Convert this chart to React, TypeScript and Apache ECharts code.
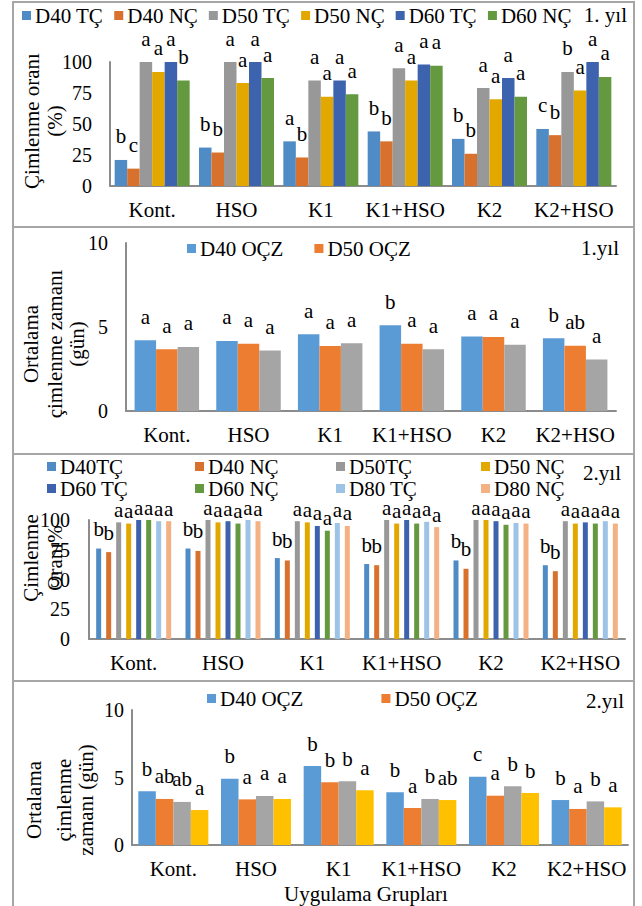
import React, { useEffect, useRef } from 'react';
import * as echarts from 'echarts';

const FONT = "'Liberation Serif', 'Times New Roman', serif";

const categories = ['Kont.', 'HSO', 'K1', 'K1+HSO', 'K2', 'K2+HSO'];

// Panel 1: 1. yıl çimlenme oranı (%)
const p1Names = ['D40 TÇ', 'D40 NÇ', 'D50 TÇ', 'D50 NÇ', 'D60 TÇ', 'D60 NÇ'];
const p1D40TC = [21, 31, 36, 44, 38, 46];
const p1D40NC = [14, 27, 23, 36, 26, 41];
const p1D50TC = [100, 100, 85, 95, 79, 92];
const p1D50NC = [92, 83, 72, 85, 70, 77];
const p1D60TC = [100, 100, 85, 98, 87, 100];
const p1D60NC = [85, 87, 74, 97, 72, 88];
const p1L40TC = ['b', 'b', 'a', 'b', 'b', 'c'];
const p1L40NC = ['c', 'b', 'b', 'b', 'b', 'b'];
const p1L50TC = ['a', 'a', 'a', 'a', 'a', 'b'];
const p1L50NC = ['a', 'a', 'a', 'a', 'a', 'a'];
const p1L60TC = ['a', 'a', 'a', 'a', 'a', 'a'];
const p1L60NC = ['b', 'a', 'a', 'a', 'a', 'a'];

// Panel 2: 1. yıl ortalama çimlenme zamanı (gün)
const p2Names = ['D40 OÇZ', 'D50 OÇZ', '1.yıl seri 3'];
const p2D40 = [4.21, 4.17, 4.57, 5.1, 4.43, 4.33];
const p2D50 = [3.68, 4.01, 3.87, 4.01, 4.41, 3.89];
const p2S3 = [3.81, 3.6, 4.03, 3.68, 3.95, 3.06];
const p2L40 = ['a', 'a', 'a', 'b', 'a', 'b'];
const p2L50 = ['a', 'a', 'a', 'a', 'a', 'ab'];
const p2LS3 = ['a', 'a', 'a', 'a', 'a', 'a'];

// Panel 3: 2. yıl çimlenme oranı (%)
const p3Names = ['D40TÇ', 'D40 NÇ', 'D50TÇ', 'D50 NÇ', 'D60 TÇ', 'D60 NÇ', 'D80 TÇ', 'D80 NÇ'];
const p3D40TC = [76, 76, 68, 63, 66, 62];
const p3D40NC = [73, 74, 66, 62, 59, 57];
const p3D50TC = [98, 100, 99, 100, 100, 99];
const p3D50NC = [97, 98, 98, 97, 100, 97];
const p3D60TC = [100, 99, 95, 100, 99, 98];
const p3D60NC = [100, 97, 91, 97, 96, 97];
const p3D80TC = [99, 100, 97.5, 98.5, 97.5, 99];
const p3D80NC = [99, 99, 95, 94, 97, 97];
const p3LD40 = ['b', 'b', 'b', 'b', 'b', 'b'];
const p3LRest = ['a', 'a', 'a', 'a', 'a', 'a'];

// Panel 4: 2. yıl ortalama çimlenme zamanı (gün)
const p4Names = ['D40 OÇZ', 'D50 OÇZ', '2.yıl seri 3', '2.yıl seri 4'];
const p4D40 = [3.98, 4.91, 5.85, 3.9, 5.06, 3.33];
const p4D50 = [3.41, 3.38, 4.64, 2.74, 3.65, 2.67];
const p4S3 = [3.19, 3.63, 4.72, 3.41, 4.35, 3.23];
const p4S4 = [2.59, 3.41, 4.05, 3.33, 3.85, 2.79];
const p4L40 = ['b', 'b', 'b', 'b', 'c', 'b'];
const p4L50 = ['ab', 'a', 'b', 'a', 'a', 'a'];
const p4LS3 = ['ab', 'a', 'b', 'b', 'b', 'b'];
const p4LS4 = ['a', 'a', 'a', 'ab', 'b', 'a'];

const C = {
  blue: '#4F8BC4',
  orange: '#D8712D',
  gray: '#989898',
  gold: '#E3A800',
  navy: '#3E63AE',
  green: '#64993F',
  lblue: '#9DC3E6',
  salmon: '#F4B183',
};
const C2 = { blue: '#5B9BD5', orange: '#ED7D31', gray: '#A5A5A5', yellow: '#FFC000' };

export default function App() {
  const ref = useRef<HTMLDivElement>(null);

  useEffect(() => {
    document.body.style.margin = '0';
    const chart = echarts.init(ref.current!, undefined, { renderer: 'svg' });

    const axisLine = { show: true, lineStyle: { color: '#8c8c8c', width: 2 } };
    const catLabel = { interval: 0, fontSize: 21, fontFamily: FONT, color: '#000', margin: 13 };
    const valLabel = (m: number) => ({ fontSize: 20, fontFamily: FONT, color: '#000', margin: m });

    const bar = (
      name: string,
      data: number[],
      letters: string[],
      color: string,
      idx: number,
      width: number,
      gap: string,
      dist: number
    ) => ({
      type: 'bar',
      name,
      data,
      xAxisIndex: idx,
      yAxisIndex: idx,
      barWidth: width,
      barGap: gap,
      itemStyle: { color },
      label: {
        show: true,
        position: 'top',
        distance: dist,
        fontSize: 21,
        fontFamily: FONT,
        color: '#000',
        formatter: (p: any) => letters[p.dataIndex],
      },
    });

    const legendBase = {
      icon: 'rect',
      itemWidth: 9,
      itemHeight: 9,
      padding: 0,
      selectedMode: false,
      textStyle: { fontSize: 21, fontFamily: FONT, color: '#000', padding: [0, 0, 0, -1] },
    };

    const txt = (text: string, x: number, y: number, align: string, rot = 0) => ({
      type: 'text',
      x,
      y,
      rotation: rot,
      style: {
        text,
        fontSize: 21,
        fontFamily: FONT,
        fill: '#000',
        align,
        verticalAlign: 'middle',
        textAlign: align,
        textVerticalAlign: 'middle',
      },
    });
    const R = Math.PI / 2;

    const option: any = {
      animation: false,
      backgroundColor: '#fff',
      grid: [
        { left: 110, right: 26, top: 62, height: 124 },
        { left: 126, right: 26, top: 243, height: 168 },
        { left: 89, right: 17, top: 520, height: 119 },
        { left: 132, right: 14, top: 710, height: 135 },
      ],
      xAxis: [0, 1, 2, 3].map((i) => ({
        type: 'category',
        gridIndex: i,
        data: categories,
        axisLine,
        axisTick: { show: false },
        axisLabel: catLabel,
      })),
      yAxis: [
        { min: 0, max: 100, interval: 25, m: 18 },
        { min: 0, max: 10, interval: 5, m: 18 },
        { min: 0, max: 100, interval: 25, m: 19 },
        { min: 0, max: 10, interval: 5, m: 8 },
      ].map((a, i) => ({
        type: 'value',
        gridIndex: i,
        min: a.min,
        max: a.max,
        interval: a.interval,
        axisLine,
        axisTick: { show: false },
        splitLine: { show: false },
        axisLabel: valLabel(a.m),
      })),
      legend: [
        { ...legendBase, data: p1Names, left: 22, top: 5, itemGap: 11 },
        { ...legendBase, data: p2Names.slice(0, 2), left: 187, top: 238, itemGap: 31 },
        { ...legendBase, data: [p3Names[0], p3Names[4]], orient: 'vertical', left: 47, top: 456, itemGap: 1 },
        { ...legendBase, data: [p3Names[1], p3Names[5]], orient: 'vertical', left: 195, top: 456, itemGap: 1 },
        { ...legendBase, data: [p3Names[2], p3Names[6]], orient: 'vertical', left: 336, top: 456, itemGap: 1 },
        { ...legendBase, data: [p3Names[3], p3Names[7]], orient: 'vertical', left: 481, top: 456, itemGap: 1 },
        { ...legendBase, data: p4Names.slice(0, 2), left: 207, top: 688, itemGap: 78 },
      ],
      series: [
        bar(p1Names[0], p1D40TC, p1L40TC, C.blue, 0, 12.5, '0%', 13),
        bar(p1Names[1], p1D40NC, p1L40NC, C.orange, 0, 12.5, '0%', 13),
        bar(p1Names[2], p1D50TC, p1L50TC, C.gray, 0, 12.5, '0%', 13),
        bar(p1Names[3], p1D50NC, p1L50NC, C.gold, 0, 12.5, '0%', 13),
        bar(p1Names[4], p1D60TC, p1L60TC, C.navy, 0, 12.5, '0%', 13),
        bar(p1Names[5], p1D60NC, p1L60NC, C.green, 0, 12.5, '0%', 13),

        bar(p2Names[0], p2D40, p2L40, C2.blue, 1, 21.5, '0%', 13),
        bar(p2Names[1], p2D50, p2L50, C2.orange, 1, 21.5, '0%', 13),
        bar(p2Names[2], p2S3, p2LS3, C2.gray, 1, 21.5, '0%', 13),

        bar(p3Names[0], p3D40TC, p3LD40, C.blue, 2, 5, '100%', 9),
        bar(p3Names[1], p3D40NC, p3LD40, C.orange, 2, 5, '100%', 9),
        bar(p3Names[2], p3D50TC, p3LRest, C.gray, 2, 5, '100%', 2),
        bar(p3Names[3], p3D50NC, p3LRest, C.gold, 2, 5, '100%', 2),
        bar(p3Names[4], p3D60TC, p3LRest, C.navy, 2, 5, '100%', 2),
        bar(p3Names[5], p3D60NC, p3LRest, C.green, 2, 5, '100%', 2),
        bar(p3Names[6], p3D80TC, p3LRest, C.lblue, 2, 5, '100%', 2),
        bar(p3Names[7], p3D80NC, p3LRest, C.salmon, 2, 5, '100%', 2),

        bar(p4Names[0], p4D40, p4L40, C2.blue, 3, 17.5, '0%', 12),
        bar(p4Names[1], p4D50, p4L50, C2.orange, 3, 17.5, '0%', 12),
        bar(p4Names[2], p4S3, p4LS3, C2.gray, 3, 17.5, '0%', 12),
        bar(p4Names[3], p4S4, p4LS4, C2.yellow, 3, 17.5, '0%', 12),
      ],
      graphic: [
        {
          type: 'rect',
          shape: { x: 13, y: 2, width: 621, height: 930 },
          style: { fill: 'none', stroke: '#a6a6a6', lineWidth: 2 },
          silent: true,
        },
        ...[227, 454, 681].map((y) => ({
          type: 'line',
          shape: { x1: 13, y1: y, x2: 634, y2: y },
          style: { stroke: '#a6a6a6', lineWidth: 2 },
          silent: true,
        })),
        txt('1. yıl', 627, 15, 'right'),
        txt('1.yıl', 619, 248, 'right'),
        txt('2.yıl', 621, 473, 'right'),
        txt('2.yıl', 624, 701, 'right'),
        // y axis titles
        txt('Çimlenme oranı', 32, 121, 'center', R),
        txt('(%)', 55, 121, 'center', R),
        txt('Ortalama', 31, 344, 'center', R),
        txt('çimlenme zamanı', 55, 344, 'center', R),
        txt('(gün)', 77, 344, 'center', R),
        txt('Çimlenme', 31, 558, 'center', R),
        txt('Oranı%', 55, 558, 'center', R),
        txt('Ortalama', 34, 800, 'center', R),
        txt('çimlenme', 64, 800, 'center', R),
        txt('zamanı (gün)', 86, 800, 'center', R),
        txt('Uygulama Grupları', 366, 894, 'center'),
      ],
    };

    chart.setOption(option);
    return () => chart.dispose();
  }, []);

  return <div ref={ref} style={{ width: 642, height: 906 }} />;
}
